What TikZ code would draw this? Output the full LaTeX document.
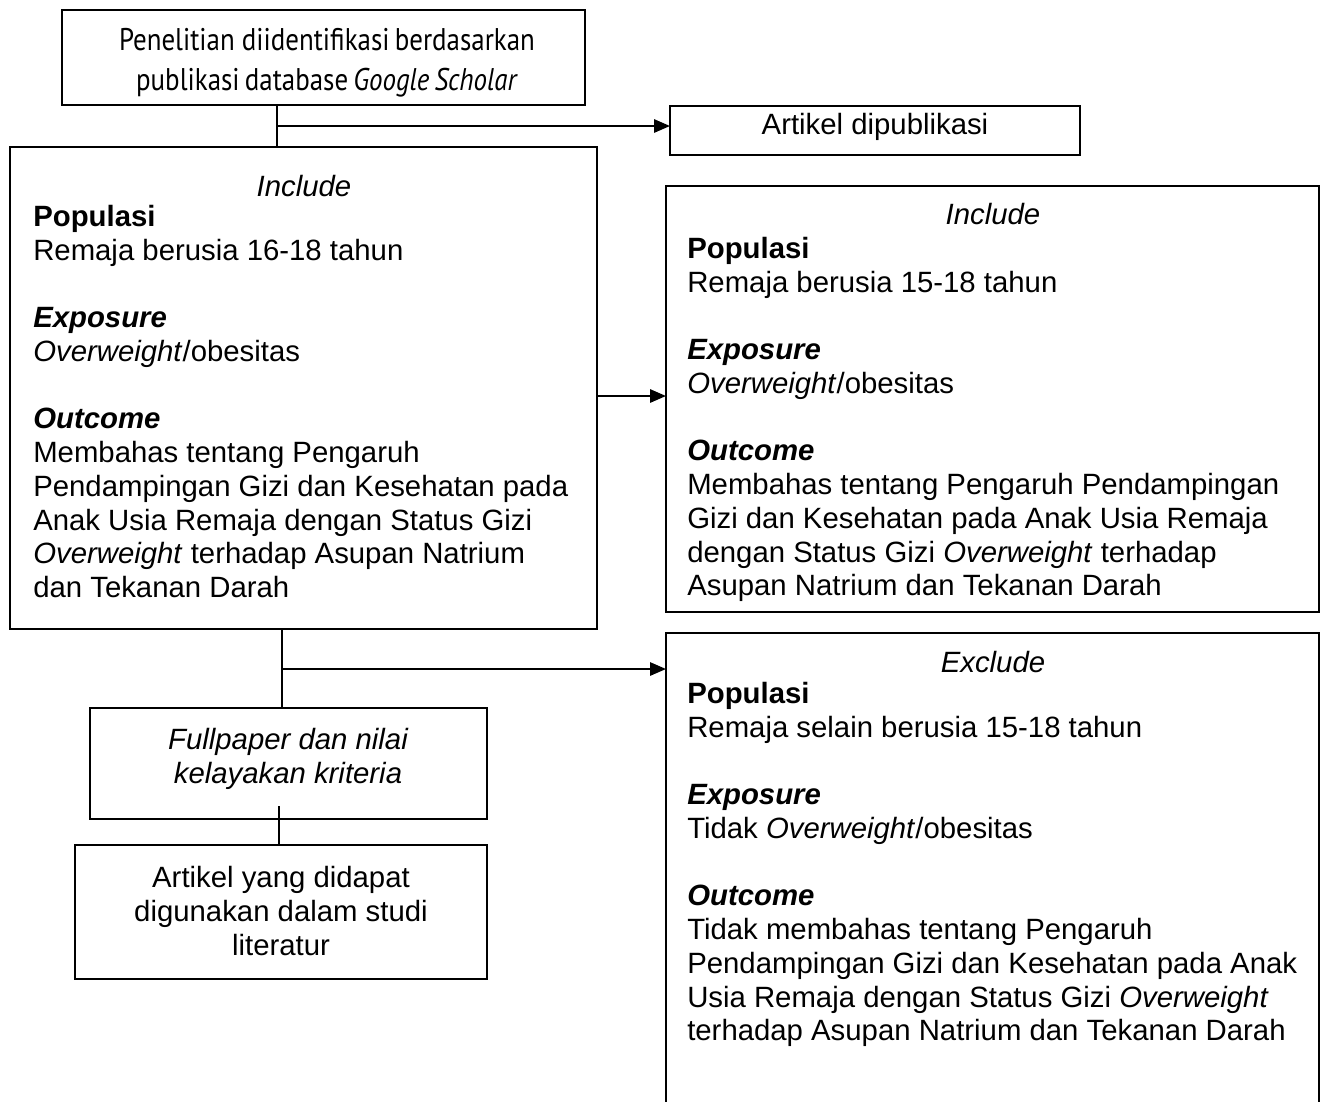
\documentclass[tikz,border=0pt]{standalone}
\usepackage{fontspec}
\setmainfont{Liberation Sans}
\newfontfamily\condfont[FakeStretch=0.86]{PT Sans}
\usetikzlibrary{arrows.meta}
\begin{document}
\begin{tikzpicture}[x=0.75pt,y=-0.75pt]
\tikzset{
  box/.style={draw, line width=1.5pt, inner sep=0pt, outer sep=0pt, anchor=north west},
  bodytxt/.style={inner sep=0pt, anchor=north west, align=left, font=\fontsize{22}{25.3}\selectfont},
  headtxt/.style={inner sep=0pt, anchor=base, font=\fontsize{22}{25.3}\selectfont\itshape},
  ctxt/.style={inner sep=0pt, align=center, font=\fontsize{22}{25.3}\selectfont},
  conn/.style={line width=1.5pt},
  arr/.style={line width=1.5pt, -{Triangle[length=12pt,width=10pt]}}
}
\useasboundingbox (0,0) rectangle (1321,1101);
\fill[white] (0,0) rectangle (1321,1101);

% boxes
\node[box, minimum width=392.25pt, minimum height=71.25pt] (top) at (62,10) {};
\node[box, minimum width=307.5pt, minimum height=36.75pt] (pub) at (670,106) {};
\node[box, minimum width=440.25pt, minimum height=361.5pt] (incL) at (10,147) {};
\node[box, minimum width=489.75pt, minimum height=319.5pt] (incR) at (666,186) {};
\node[box, minimum width=489.75pt, minimum height=400pt] (exc) at (666,633) {};
\node[box, minimum width=297.75pt, minimum height=83.25pt] (full) at (90,708) {};
\node[box, minimum width=309pt, minimum height=100.5pt] (art) at (75,845) {};

% texts
\node[font=\condfont\fontsize{23.5}{30}\selectfont, align=center, inner sep=0pt] (toptxt) at (327,63)
  {Penelitian diidentifikasi\,berdasarkan\\ publikasi\,database\,\textit{Google\,Scholar}};
\node[ctxt] (pubtxt) at (875,127) {Artikel dipublikasi};

\node[headtxt] (incLh) at (304,196) {Include};
\node[bodytxt] (incLb) at (33,205) {\textbf{Populasi}\\
Remaja berusia 16-18 tahun\\[25.3pt]
\textbf{\textit{Exposure}}\\
\textit{Overweight}/obesitas\\[25.3pt]
\textbf{\textit{Outcome}}\\
Membahas tentang Pengaruh\\
Pendampingan Gizi dan Kesehatan pada\\
Anak Usia Remaja dengan Status Gizi\\
\textit{Overweight} terhadap Asupan Natrium\\
dan Tekanan Darah};

\node[headtxt] (incRh) at (993,224) {Include};
\node[bodytxt] (incRb) at (687,237) {\textbf{Populasi}\\
Remaja berusia 15-18 tahun\\[25.3pt]
\textbf{\textit{Exposure}}\\
\textit{Overweight}/obesitas\\[25.3pt]
\textbf{\textit{Outcome}}\\
Membahas tentang Pengaruh Pendampingan\\
Gizi dan Kesehatan pada Anak Usia Remaja\\
dengan Status Gizi \textit{Overweight} terhadap\\
Asupan Natrium dan Tekanan Darah};

\node[headtxt] (exch) at (993,672) {Exclude};
\node[bodytxt] (excb) at (687,682) {\textbf{Populasi}\\
Remaja selain berusia 15-18 tahun\\[25.3pt]
\textbf{\textit{Exposure}}\\
Tidak \textit{Overweight}/obesitas\\[25.3pt]
\textbf{\textit{Outcome}}\\
Tidak membahas tentang Pengaruh\\
Pendampingan Gizi dan Kesehatan pada Anak\\
Usia Remaja dengan Status Gizi \textit{Overweight}\\
terhadap Asupan Natrium dan Tekanan Darah};

\node[ctxt, font=\fontsize{22}{25.3}\selectfont\itshape] (fulltxt) at (288,759)
  {Fullpaper dan nilai\\ kelayakan kriteria};
\node[ctxt] (arttxt) at (281,911)
  {Artikel yang didapat\\ digunakan dalam studi\\ literatur};

% connectors
\coordinate (j1) at (277,126);
\coordinate (j2) at (597,396);
\coordinate (j3) at (282,669);
\coordinate (j4) at (279,806);
\draw[conn] (top.south -| j1) -- (incL.north -| j1);
\draw[arr] (j1) -- (pub.west |- j1);
\draw[arr] (j2) -- (incR.west |- j2);
\draw[conn] (incL.south -| j3) -- (full.north -| j3);
\draw[arr] (j3) -- (exc.west |- j3);
\draw[conn] (j4) -- (art.north -| j4);
\end{tikzpicture}
\end{document}
